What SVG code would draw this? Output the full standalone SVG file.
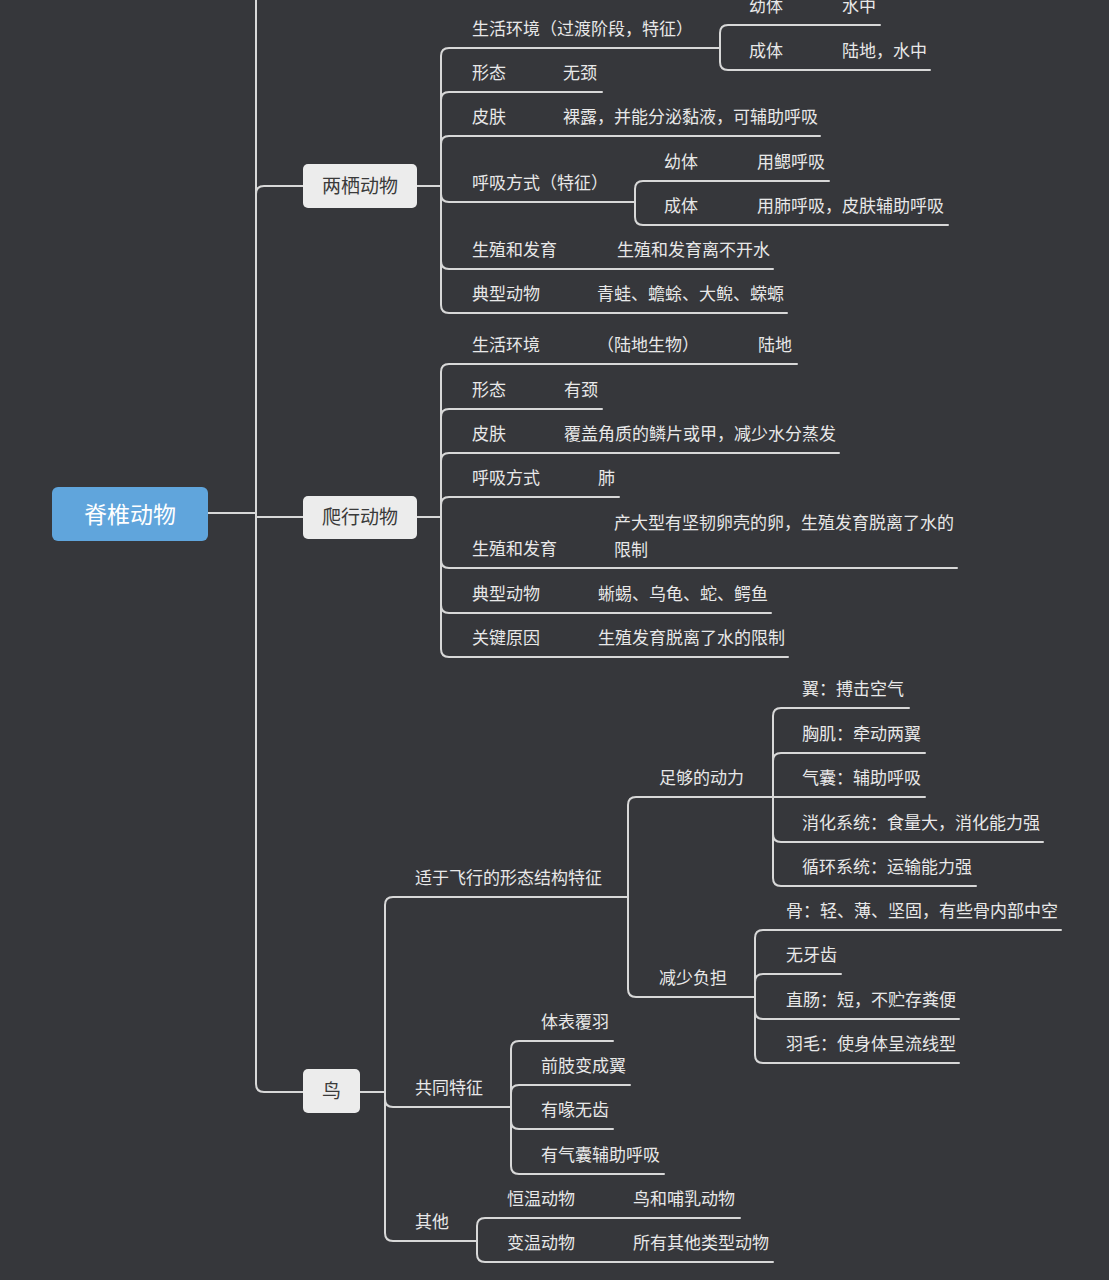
<svg xmlns="http://www.w3.org/2000/svg" width="1109" height="1280" viewBox="0 0 1109 1280">
<style>
.bg{fill:#36373b}
.ln{fill:none;stroke:#d8d8d8;stroke-width:2;stroke-linecap:round}
.t{font-family:"Noto Sans CJK SC","Noto Sans",sans-serif;font-size:17px;fill:#e8e8e8}
.nb{fill:#ececec}
.n{font-family:"Noto Sans CJK SC","Noto Sans",sans-serif;font-size:19px;fill:#3a3a3a;text-anchor:middle}
.r{font-family:"Noto Sans CJK SC","Noto Sans",sans-serif;font-size:23px;fill:#ffffff;text-anchor:middle}
</style>
<rect class="bg" x="0" y="0" width="1109" height="1280"/>
<g id="connectors">
<path class="ln" d="M208,513 H256 M256,513 V-10 M256,513 V194 Q256,186 264,186 H303 M256,517 H303 M256,513 V1084 Q256,1092 264,1092 H303"/>
<path class="ln" d="M417,186 H441 M417,517 H441 M360,1092 H385"/>
<path class="ln" d="M441,186 V56 Q441,48 449,48 H720 M441,186 V100 Q441,92 449,92 H602 M441,186 V144 Q441,136 449,136 H820 M441,186 V194 Q441,202 449,202 H635 M441,186 V261 Q441,269 449,269 H773 M441,186 V305 Q441,313 449,313 H787"/>
<path class="ln" d="M720,48 V33 Q720,25 728,25 H880 M720,48 V62 Q720,70 728,70 H930"/>
<path class="ln" d="M635,202 V189 Q635,181 643,181 H829 M635,202 V217 Q635,225 643,225 H948"/>
<path class="ln" d="M441,517 V372 Q441,364 449,364 H797 M441,517 V417 Q441,409 449,409 H602 M441,517 V461 Q441,453 449,453 H839 M441,517 V505 Q441,497 449,497 H619 M441,517 V560 Q441,568 449,568 H957 M441,517 V605 Q441,613 449,613 H771 M441,517 V649 Q441,657 449,657 H788"/>
<path class="ln" d="M385,1092 V905 Q385,897 393,897 H628 M385,1092 V1099 Q385,1107 393,1107 H511 M385,1092 V1233 Q385,1241 393,1241 H477"/>
<path class="ln" d="M628,897 V805 Q628,797 636,797 H773 M628,897 V989 Q628,997 636,997 H755"/>
<path class="ln" d="M773,797 V716 Q773,708 781,708 H909 M773,797 V761 Q773,753 781,753 H925 M773,797 H925 M773,797 V834 Q773,842 781,842 H1043 M773,797 V878 Q773,886 781,886 H976"/>
<path class="ln" d="M755,997 V938 Q755,930 763,930 H1061 M755,997 V982 Q755,974 763,974 H841 M755,997 V1011 Q755,1019 763,1019 H959 M755,997 V1055 Q755,1063 763,1063 H959"/>
<path class="ln" d="M511,1107 V1049 Q511,1041 519,1041 H613 M511,1107 V1093 Q511,1085 519,1085 H630 M511,1107 V1121 Q511,1129 519,1129 H613 M511,1107 V1166 Q511,1174 519,1174 H664"/>
<path class="ln" d="M477,1241 V1226 Q477,1218 485,1218 H740 M477,1241 V1254 Q477,1262 485,1262 H773"/>
</g>
<g id="root"><rect x="52" y="487" width="156" height="54" rx="6" fill="#60a5dc"/><text class="r" x="130" y="523">脊椎动物</text></g>
<g id="amphibian"><rect class="nb" x="303" y="164" width="114" height="44" rx="5"/><text class="n" x="360" y="193">两栖动物</text></g>
<g id="reptile"><rect class="nb" x="303" y="496" width="114" height="43" rx="5"/><text class="n" x="360" y="524">爬行动物</text></g>
<g id="bird"><rect class="nb" x="303" y="1069" width="57" height="44" rx="5"/><text class="n" x="331.5" y="1098">鸟</text></g>
<g id="amphibian-items">
<text class="t" x="472" y="35">生活环境（过渡阶段，特征）</text>
<text class="t" x="749" y="12">幼体</text><text class="t" x="842" y="12">水中</text>
<text class="t" x="749" y="57">成体</text><text class="t" x="842" y="57">陆地，水中</text>
<text class="t" x="472" y="79">形态</text><text class="t" x="563" y="79">无颈</text>
<text class="t" x="472" y="123">皮肤</text><text class="t" x="563" y="123">裸露，并能分泌黏液，可辅助呼吸</text>
<text class="t" x="472" y="189">呼吸方式（特征）</text>
<text class="t" x="664" y="168">幼体</text><text class="t" x="757" y="168">用鳃呼吸</text>
<text class="t" x="664" y="212">成体</text><text class="t" x="757" y="212">用肺呼吸，皮肤辅助呼吸</text>
<text class="t" x="472" y="256">生殖和发育</text><text class="t" x="617" y="256">生殖和发育离不开水</text>
<text class="t" x="472" y="300">典型动物</text><text class="t" x="597" y="300">青蛙、蟾蜍、大鲵、蝾螈</text>
</g>
<g id="reptile-items">
<text class="t" x="472" y="351">生活环境</text><text class="t" x="597" y="351">（陆地生物）</text><text class="t" x="758" y="351">陆地</text>
<text class="t" x="472" y="396">形态</text><text class="t" x="564" y="396">有颈</text>
<text class="t" x="472" y="440">皮肤</text><text class="t" x="564" y="440">覆盖角质的鳞片或甲，减少水分蒸发</text>
<text class="t" x="472" y="484">呼吸方式</text><text class="t" x="598" y="484">肺</text>
<text class="t" x="472" y="555">生殖和发育</text><text class="t" x="614" y="529">产大型有坚韧卵壳的卵，生殖发育脱离了水的</text><text class="t" x="614" y="556">限制</text>
<text class="t" x="472" y="600">典型动物</text><text class="t" x="598" y="600">蜥蜴、乌龟、蛇、鳄鱼</text>
<text class="t" x="472" y="644">关键原因</text><text class="t" x="598" y="644">生殖发育脱离了水的限制</text>
</g>
<g id="bird-items">
<text class="t" x="415" y="884">适于飞行的形态结构特征</text>
<text class="t" x="659" y="784">足够的动力</text>
<text class="t" x="802" y="695">翼：搏击空气</text>
<text class="t" x="802" y="740">胸肌：牵动两翼</text>
<text class="t" x="802" y="784">气囊：辅助呼吸</text>
<text class="t" x="802" y="829">消化系统：食量大，消化能力强</text>
<text class="t" x="802" y="873">循环系统：运输能力强</text>
<text class="t" x="659" y="984">减少负担</text>
<text class="t" x="786" y="917">骨：轻、薄、坚固，有些骨内部中空</text>
<text class="t" x="786" y="961">无牙齿</text>
<text class="t" x="786" y="1006">直肠：短，不贮存粪便</text>
<text class="t" x="786" y="1050">羽毛：使身体呈流线型</text>
<text class="t" x="415" y="1094">共同特征</text>
<text class="t" x="541" y="1028">体表覆羽</text>
<text class="t" x="541" y="1072">前肢变成翼</text>
<text class="t" x="541" y="1116">有喙无齿</text>
<text class="t" x="541" y="1161">有气囊辅助呼吸</text>
<text class="t" x="415" y="1228">其他</text>
<text class="t" x="507" y="1205">恒温动物</text><text class="t" x="633" y="1205">鸟和哺乳动物</text>
<text class="t" x="507" y="1249">变温动物</text><text class="t" x="633" y="1249">所有其他类型动物</text>
</g>
</svg>
